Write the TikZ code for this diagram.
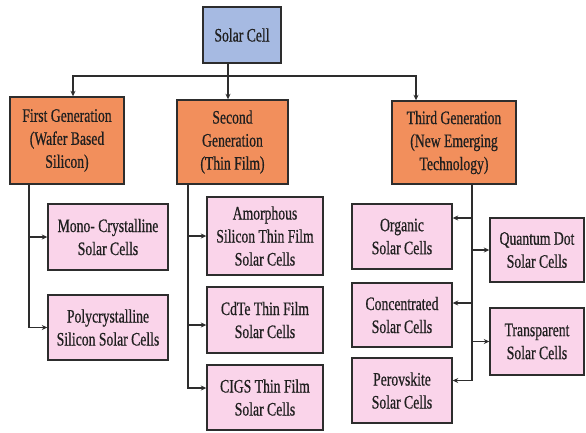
\documentclass[tikz,border=0pt]{standalone}
\usepackage{fontspec}
\setmainfont[FakeStretch=0.72,FakeBold=0.6]{Liberation Serif}
\usetikzlibrary{arrows.meta}
\definecolor{rootblue}{RGB}{166,186,226}
\definecolor{genorange}{RGB}{242,143,92}
\definecolor{cellpink}{RGB}{250,212,234}
\definecolor{edgegray}{RGB}{45,45,45}

\begin{document}
\begin{tikzpicture}[x=1pt, y=-1pt, >={Stealth[length=5.5pt,width=5pt]},
    box/.style={draw=edgegray, line width=1.4pt, align=center, inner sep=0pt,
      text=black!88, font=\fontsize{19}{23}\selectfont},
    rootbox/.style={box, fill=rootblue},
    genbox/.style={box, fill=genorange},
    cellbox/.style={box, fill=cellpink},
    link/.style={draw=edgegray, line width=1.2pt}]
    \useasboundingbox (0,0) rectangle (586,432);
    % Root
    \node[rootbox, minimum width=78pt, minimum height=56pt] (root) at (242,35) {Solar Cell};
    % Generations
    \node[genbox, minimum width=114pt, minimum height=87pt] (first) at (67,140.5) {First Generation\\(Wafer Based\\Silicon)};
    \node[genbox, minimum width=111pt, minimum height=84pt] (second) at (232.5,142) {Second\\Generation\\(Thin Film)};
    \node[genbox, minimum width=124pt, minimum height=83pt] (third) at (454,142.5) {Third Generation\\(New Emerging\\Technology)};
    % First generation cells
    \node[cellbox, minimum width=120pt, minimum height=66pt] (mono) at (108,237) {Mono- Crystalline\\Solar Cells};
    \node[cellbox, minimum width=120pt, minimum height=65pt] (poly) at (108,327.5) {Polycrystalline\\Silicon Solar Cells};
    % Second generation cells
    \node[cellbox, minimum width=116pt, minimum height=78pt] (amorph) at (265,236) {Amorphous\\Silicon Thin Film\\Solar Cells};
    \node[cellbox, minimum width=116pt, minimum height=66pt] (cdte) at (265,320) {CdTe Thin Film\\Solar Cells};
    \node[cellbox, minimum width=116pt, minimum height=65pt] (cigs) at (265,397.5) {CIGS Thin Film\\Solar Cells};
    % Third generation cells
    \node[cellbox, minimum width=100pt, minimum height=65pt] (organic) at (402,236.5) {Organic\\Solar Cells};
    \node[cellbox, minimum width=100pt, minimum height=64pt] (conc) at (402,315) {Concentrated\\Solar Cells};
    \node[cellbox, minimum width=100pt, minimum height=65pt] (perov) at (402,390.5) {Perovskite\\Solar Cells};
    \node[cellbox, minimum width=94pt, minimum height=64pt] (quantum) at (537,250) {Quantum Dot\\Solar Cells};
    \node[cellbox, minimum width=94pt, minimum height=67pt] (transp) at (537,341.5) {Transparent\\Solar Cells};
    % Bus from root
    \path (root.south) ++(-14,0) coordinate (r0);
    \coordinate (bus) at (228,76);
    \draw[link, ->] (r0) -- (r0 |- second.north);
    \draw[link, ->] (bus) -| ([xshift=6pt]first.north);
    \draw[link, ->] (bus) -| ([xshift=-38pt]third.north);
    % Trunks
    \path (first.south) ++(-38,0) coordinate (t1);
    \path (second.south) ++(-44.5,0) coordinate (t2);
    \path (third.south) ++(18,0) coordinate (t3);
    \draw[link, ->] (t1) |- (mono.west);
    \draw[link, ->] (t1) |- (poly.west);
    \draw[link, ->] (t2) |- (amorph.west);
    \draw[link, ->] (t2) |- ([yshift=-5pt]cdte.west);
    \draw[link, ->] (t2) |- ([yshift=9.5pt]cigs.west);
    \draw[link, ->] (t3) |- ([yshift=18.5pt]organic.east);
    \draw[link, ->] (t3) |- ([yshift=12pt]conc.east);
    \draw[link, ->] (t3) |- ([yshift=10pt]perov.east);
    \draw[link, ->] (t3) |- (quantum.west);
    \draw[link, ->] (t3) |- (transp.west);
\end{tikzpicture}
\end{document}
